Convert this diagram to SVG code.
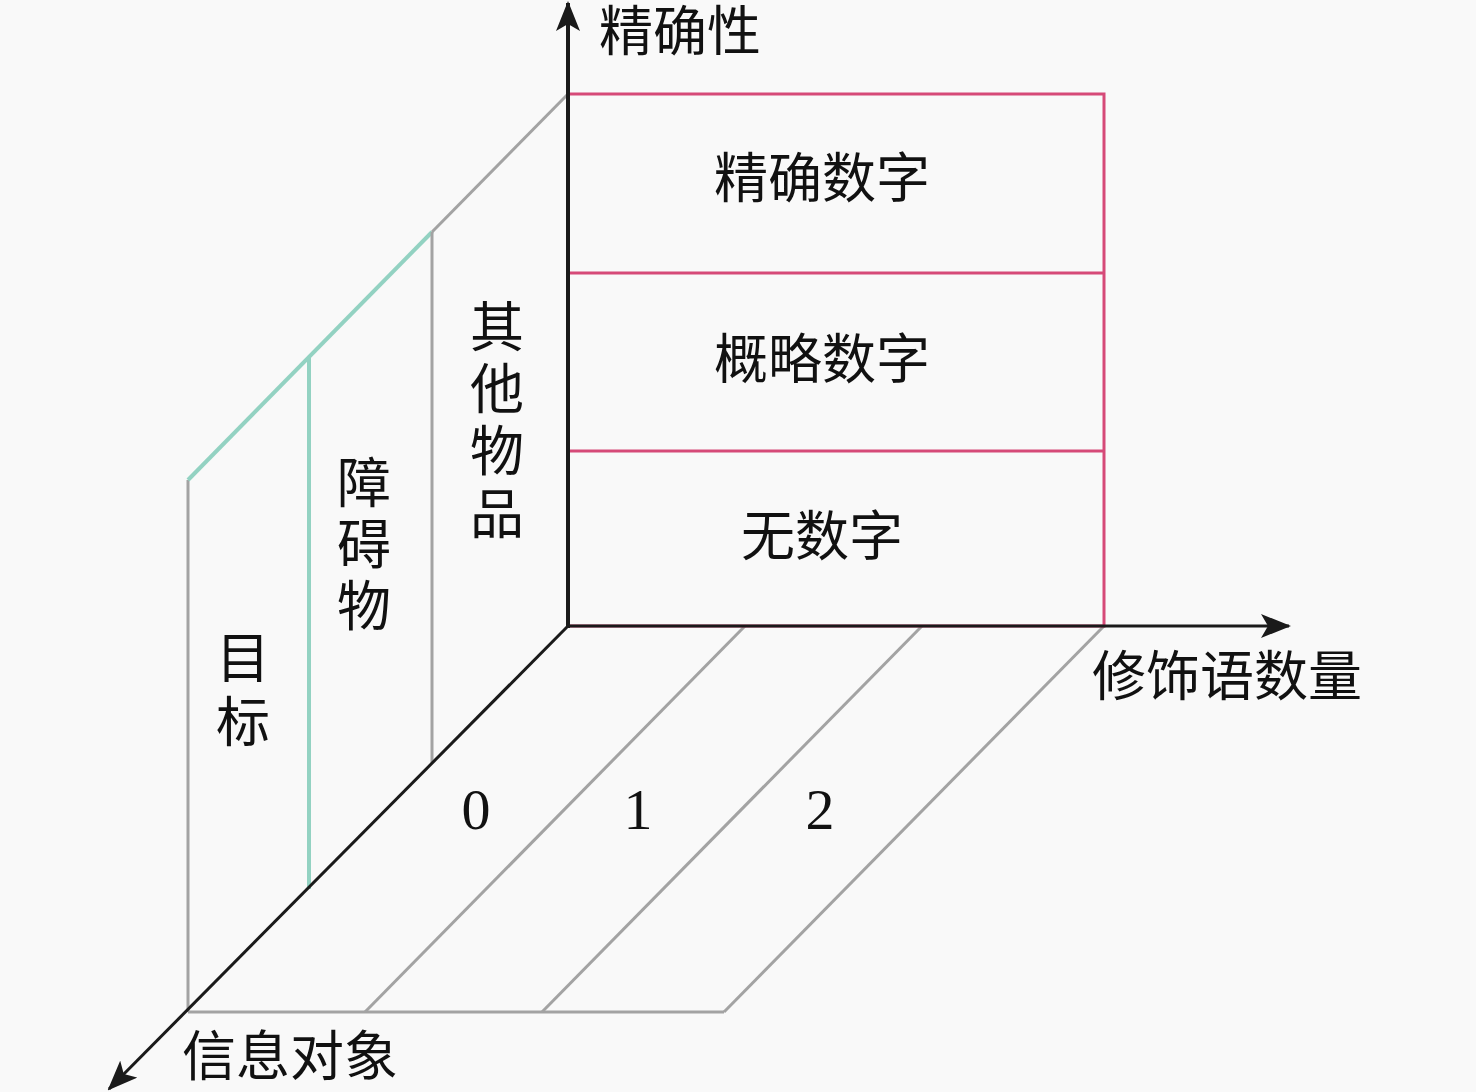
<svg xmlns="http://www.w3.org/2000/svg" width="1476" height="1092" viewBox="0 0 1476 1092">
<defs>
<style>
.bg{fill:#f9f9f9}
.cjk{font-family:"Liberation Serif","Noto Sans CJK SC",serif;font-size:54px;fill:#111}
.num{font-family:"Liberation Serif",serif;font-size:58px;fill:#111}
.gray{stroke:#a3a3a3;stroke-width:3;fill:none}
.teal{stroke:#93d2c2;stroke-width:4;fill:none}
.pink{stroke:#d64a78;stroke-width:3;fill:none}
.axis{stroke:#1a1a1a;stroke-width:3;fill:none}
</style>
<marker id="arr" viewBox="0 0 30 24" refX="28" refY="12" markerWidth="30" markerHeight="24" markerUnits="userSpaceOnUse" orient="auto">
<path d="M0,0 L30,12 L0,24 L7,12 z" fill="#1a1a1a"/>
</marker>
</defs>
<rect class="bg" x="0" y="0" width="1476" height="1092"/>

<g id="left-wall">
<line class="gray" x1="188" y1="480" x2="188" y2="1012"/>
<line class="teal" x1="188" y1="480" x2="432" y2="232"/>
<line class="gray" x1="432" y1="232" x2="568" y2="94"/>
<line class="teal" x1="309" y1="357" x2="309" y2="889"/>
<line class="gray" x1="432" y1="232" x2="432" y2="763"/>
</g>

<g id="floor">
<line class="gray" x1="188" y1="1012" x2="724" y2="1012"/>
<line class="gray" x1="745" y1="626" x2="365" y2="1012"/>
<line class="gray" x1="922" y1="626" x2="542" y2="1012"/>
<line class="gray" x1="1104" y1="626" x2="724" y2="1012"/>
</g>

<g id="precision-box">
<rect class="pink" x="568" y="94" width="536" height="532"/>
<line class="pink" x1="568" y1="273" x2="1104" y2="273"/>
<line class="pink" x1="568" y1="451" x2="1104" y2="451"/>
</g>

<g id="connectors">
<line class="axis" x1="568" y1="628" x2="568" y2="3" marker-end="url(#arr)" style="stroke-width:4"/>
<line class="axis" x1="566" y1="626" x2="1289" y2="626" marker-end="url(#arr)"/>
<line class="axis" x1="568" y1="626" x2="109" y2="1089" marker-end="url(#arr)"/>
</g>

<g id="node-exact"><text class="cjk" x="822" y="198" text-anchor="middle">精确数字</text></g>
<g id="node-approx"><text class="cjk" x="822" y="379" text-anchor="middle">概略数字</text></g>
<g id="node-none"><text class="cjk" x="822" y="556" text-anchor="middle">无数字</text></g>

<g id="node-other" class="cjk" text-anchor="middle">
<text x="497" y="347">其</text>
<text x="497" y="409">他</text>
<text x="497" y="471">物</text>
<text x="497" y="534">品</text>
</g>
<g id="node-obstacle" class="cjk" text-anchor="middle">
<text x="364" y="503">障</text>
<text x="364" y="564">碍</text>
<text x="364" y="626">物</text>
</g>
<g id="node-target" class="cjk" text-anchor="middle">
<text x="243" y="678">目</text>
<text x="243" y="742">标</text>
</g>

<g id="node-0"><text class="num" x="476" y="829" text-anchor="middle">0</text></g>
<g id="node-1"><text class="num" x="638" y="829" text-anchor="middle">1</text></g>
<g id="node-2"><text class="num" x="820" y="829" text-anchor="middle">2</text></g>

<g id="label-precision"><text class="cjk" x="599" y="51">精确性</text></g>
<g id="label-modifiers"><text class="cjk" x="1092" y="696">修饰语数量</text></g>
<g id="label-object"><text class="cjk" x="182" y="1076">信息对象</text></g>
</svg>
